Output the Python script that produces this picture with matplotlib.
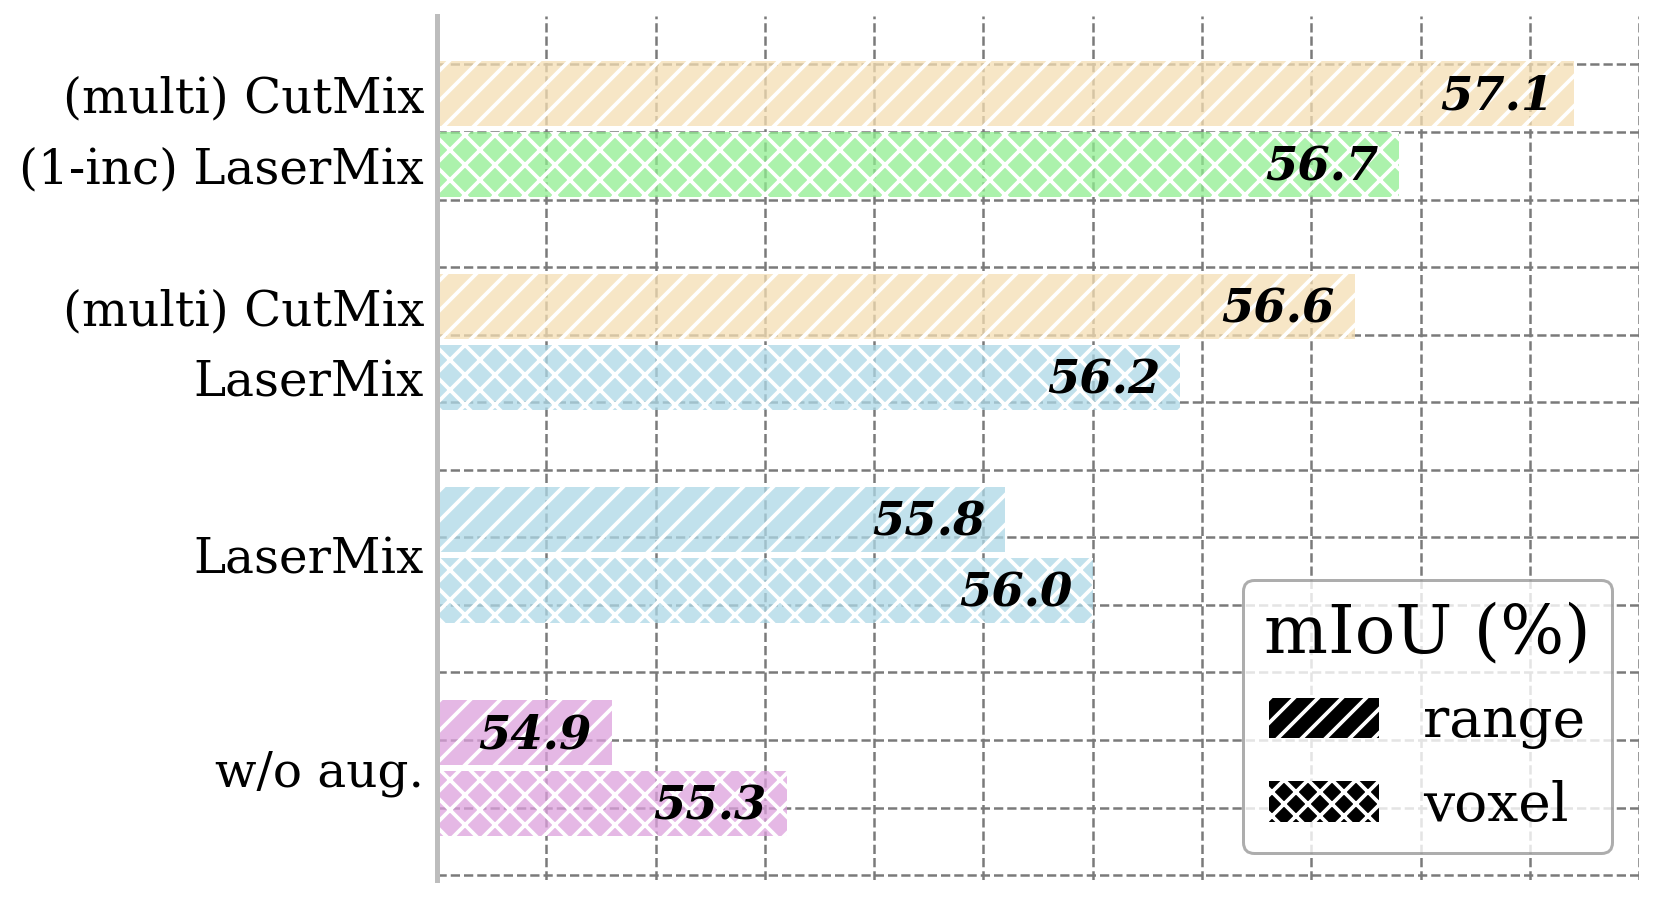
import numpy as np
import matplotlib
matplotlib.use('Agg')
import matplotlib.pyplot as plt
import matplotlib.patches as mpatches

# bars, top to bottom, two per group
bar_values = [57.1, 56.7, 56.6, 56.2, 55.8, 56.0, 54.9, 55.3]
bar_kinds = ['range', 'voxel', 'range', 'voxel', 'range', 'voxel', 'range', 'voxel']
bar_colors = ['wheat', 'lightgreen', 'wheat', 'lightblue',
              'lightblue', 'lightblue', 'plum', 'plum']

# per-bar labels for the first two groups, one centred label for the others
group_labels = [['(multi) CutMix', '(1-inc) LaserMix'],
                ['(multi) CutMix', 'LaserMix'],
                ['LaserMix'],
                ['w/o aug.']]

hatches = {'range': '////', 'voxel': 'xxxx'}
legend_hatches = {'range': '/////', 'voxel': 'xxxxx'}

plt.rcParams['font.family'] = 'DejaVu Serif'
plt.rcParams['hatch.linewidth'] = 0.75

DPI = 360
fig = plt.figure(figsize=(1660 / DPI + 1e-6, 898 / DPI + 1e-6), dpi=DPI)
ax = fig.add_axes([0.2633, 0.020, 0.9874 - 0.2633, 0.982 - 0.020])

# y positions: groups are 3 units apart, bars inside a group 1 unit apart
ypos = []
tick_pos = []
tick_lab = []
for g, labs in enumerate(group_labels):
    ypos += [g * 3, g * 3 + 1]
    if len(labs) == 2:
        tick_pos += [g * 3, g * 3 + 1]
    else:
        tick_pos.append(g * 3 + 0.5)
    tick_lab += labs

for y, v, k, c in zip(ypos, bar_values, bar_kinds, bar_colors):
    # translucent fill, then an opaque white hatch on top
    ax.barh(y, v - 54.5, left=54.5, height=0.915, color=c, alpha=0.75,
            linewidth=0, zorder=2)
    ax.barh(y, v - 54.5, left=54.5, height=0.915, facecolor='none',
            edgecolor='white', linewidth=0, hatch=hatches[k], zorder=2.1)
    ax.annotate(f'{v:.1f}', xy=(v, y), xytext=(-4, -0.6), textcoords='offset points',
                ha='right', va='center', fontsize=9.3, fontweight='bold',
                fontstyle='italic', zorder=3)

ax.set_xlim(54.5, 57.25)
ax.set_ylim(11.074, -1.088)

ax.set_xticks(np.arange(54.5, 57.26, 0.25))
ax.set_yticks(tick_pos)
ax.set_yticklabels(tick_lab, fontsize=9.7)
ax.set_yticks(-0.408 + 0.951 * np.arange(13), minor=True)
ax.tick_params(axis='x', length=0, labelbottom=False)
ax.tick_params(axis='y', which='both', length=0, pad=2.6)

ax.set_axisbelow(True)
ax.xaxis.grid(True, which='major', linestyle='--', color='#7a7a7a', linewidth=0.5)
ax.yaxis.grid(True, which='minor', linestyle='--', color='#7a7a7a', linewidth=0.5)
ax.yaxis.grid(False, which='major')

for s in ['top', 'right', 'bottom']:
    ax.spines[s].set_visible(False)
ax.spines['left'].set_color('#bdbdbd')
ax.spines['left'].set_linewidth(1.0)

handles = [mpatches.Patch(facecolor='black', edgecolor='white', linewidth=0,
                          hatch=legend_hatches[k], label=k)
           for k in ['range', 'voxel']]
leg = ax.legend(handles=handles, title='mIoU (%)', loc='lower right',
                fontsize=11, title_fontsize=13.5, handlelength=2.0,
                handleheight=0.75, handletextpad=0.8, labelspacing=0.55,
                borderpad=0.38, fancybox=True, framealpha=0.8)
leg.get_frame().set_edgecolor('#999999')
leg.get_frame().set_linewidth(0.6)

fig.savefig('out.png', dpi=DPI)
